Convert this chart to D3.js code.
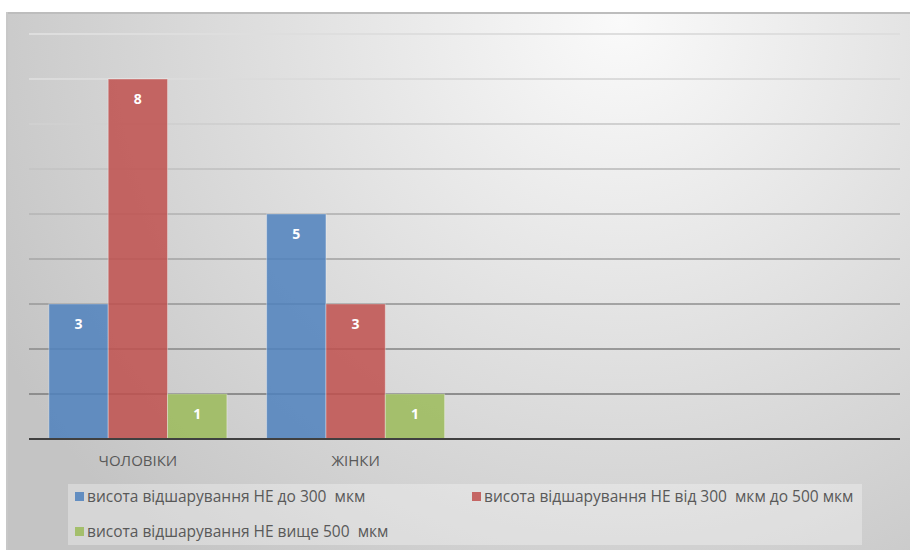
<!DOCTYPE html>
<html>
<head>
<meta charset="utf-8">
<script src="https://d3js.org/d3.v7.min.js"></script>
<style>
  body { margin: 0; background: #fff; }
  text { font-family: "Open Sans", "Liberation Sans", sans-serif; }
</style>
</head>
<body>
<div id="chart"></div>
<script>
// data
var categories = ["ЧОЛОВІКИ", "ЖІНКИ", "", " "];
var seriesNames = [
  "висота відшарування НЕ до 300  мкм",
  "висота відшарування НЕ від 300  мкм до 500 мкм",
  "висота відшарування НЕ вище 500  мкм"
];
var under300 = [3, 5, null, null];
var from300to500 = [8, 3, null, null];
var over500 = [1, 1, null, null];
var yTicks = [0, 1, 2, 3, 4, 5, 6, 7, 8, 9];

var seriesValues = [under300, from300to500, over500];
var colors = ["#4f81bd", "#c0504d", "#9bbb59"];

var W = 910, H = 550;
var margin = { top: 34, right: 10, bottom: 111, left: 29 };
var plotW = 900 - margin.left, plotH = 439 - margin.top;

var svg = d3.select("#chart").append("svg")
  .attr("width", W).attr("height", H);

var defs = svg.append("defs");
var bg = defs.append("radialGradient").attr("id", "bg")
  .attr("gradientUnits", "userSpaceOnUse")
  .attr("cx", 620).attr("cy", 20).attr("r", 700);
bg.append("stop").attr("offset", "0%").attr("stop-color", "#fafafa");
bg.append("stop").attr("offset", "100%").attr("stop-color", "#c4c4c4");

var gridGrad = defs.append("linearGradient").attr("id", "grid")
  .attr("gradientUnits", "userSpaceOnUse")
  .attr("x1", 0).attr("y1", margin.top).attr("x2", 0).attr("y2", 439);
gridGrad.append("stop").attr("offset", "0%").attr("stop-color", "#dedede");
gridGrad.append("stop").attr("offset", "100%").attr("stop-color", "#7a7a7a");

// frame
svg.append("rect").attr("x", 6).attr("y", 12).attr("width", W).attr("height", H)
  .attr("fill", "url(#bg)");
svg.append("line").attr("x1", 6).attr("x2", W).attr("y1", 13).attr("y2", 13)
  .attr("stroke", "#bdbdbd").attr("stroke-width", 2);
svg.append("line").attr("x1", 7).attr("x2", 7).attr("y1", 12).attr("y2", H)
  .attr("stroke", "#c8c8c8").attr("stroke-width", 2);

var g = svg.append("g").attr("transform", "translate(" + margin.left + "," + margin.top + ")");

var x0 = d3.scaleBand().domain(categories).range([0, plotW]).paddingInner(0).paddingOuter(0);
var x1 = d3.scaleBand().domain(d3.range(seriesNames.length))
  .range([0, x0.bandwidth()]).paddingOuter(0.335).paddingInner(0);
var y = d3.scaleLinear().domain([0, 9]).range([plotH, 0]);

// gridlines
g.append("g").selectAll("line").data(yTicks.filter(function(d) { return d > 0; }))
  .enter().append("line")
  .attr("x1", 0).attr("x2", plotW)
  .attr("y1", function(d) { return y(d); }).attr("y2", function(d) { return y(d); })
  .attr("stroke", "url(#grid)").attr("stroke-width", 2);

// bars
var groups = g.selectAll(".grp").data(categories).enter().append("g")
  .attr("transform", function(d) { return "translate(" + x0(d) + ",0)"; });

groups.each(function(cat, ci) {
  var grp = d3.select(this);
  seriesValues.forEach(function(vals, si) {
    var v = vals[ci];
    if (v == null) return;
    grp.append("rect")
      .attr("x", x1(si)).attr("y", y(v))
      .attr("width", x1.bandwidth()).attr("height", y(0) - y(v))
      .attr("fill", colors[si]).attr("fill-opacity", 0.85)
      .attr("stroke", "#ffffff").attr("stroke-opacity", 0.35).attr("stroke-width", 1);
    grp.append("text")
      .attr("x", x1(si) + x1.bandwidth() / 2).attr("y", y(v) + 25)
      .attr("text-anchor", "middle").attr("fill", "#fff")
      .attr("font-size", 14).attr("font-weight", "bold")
      .text(v);
  });
});

// baseline
g.append("line").attr("x1", 0).attr("x2", plotW).attr("y1", y(0)).attr("y2", y(0))
  .attr("stroke", "#404040").attr("stroke-width", 2);

// x axis labels
var xAxis = d3.axisBottom(x0).tickSize(0).tickPadding(16);
var ax = g.append("g").attr("transform", "translate(0," + plotH + ")").call(xAxis);
ax.select(".domain").remove();
ax.selectAll("text").attr("font-size", 15).attr("fill", "#595959")
  .style("font-family", "'Open Sans', 'Liberation Sans', sans-serif");

// legend
svg.append("rect").attr("x", 68).attr("y", 484).attr("width", 794).attr("height", 61)
  .attr("fill", "#ffffff").attr("fill-opacity", 0.3);
var legendPos = [[75, 497], [472, 497], [75, 532]];
seriesNames.forEach(function(name, i) {
  var p = legendPos[i];
  svg.append("rect").attr("x", p[0]).attr("y", p[1] - 5).attr("width", 9).attr("height", 9)
    .attr("fill", colors[i]).attr("fill-opacity", 0.85);
  svg.append("text").attr("x", p[0] + 12).attr("y", p[1] + 5)
    .attr("font-size", 15.5).attr("fill", "#595959")
    .style("white-space", "pre")
    .text(name);
});
</script>
</body>
</html>
